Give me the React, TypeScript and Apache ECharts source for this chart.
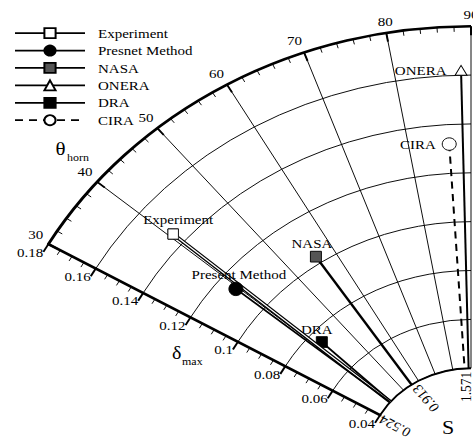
import React, { useEffect, useRef } from 'react';
import * as echarts from 'echarts';

// ---- data ----
const seriesNames = ['Experiment', 'Presnet Method', 'NASA', 'ONERA', 'DRA', 'CIRA'];
const pointLabels = ['Experiment', 'Present Method', 'NASA', 'ONERA', 'DRA', 'CIRA'];
// marker position: θ_horn (deg) and δ_max
const thetaHorn = [40.6, 39.5, 56.0, 88.7, 42.0, 86.5];
const deltaMax = [0.145, 0.113, 0.103, 0.162, 0.075, 0.132];
// where each line meets the inner arc (θ in deg)
const thetaEnd = [39.9, 39.7, 55.5, 88.7, 40.2, 86.5];
const deltaInner = 0.04;
// S tick labels on the inner arc (rad)
const sTicks = [0.524, 0.913, 1.571];
// axis ranges
const thetaRange = [30, 90];
const thetaStep = 10;
const deltaRange = [0.04, 0.18];
const deltaStep = 0.02;

// ---- styles ----
const FONT = 'Liberation Serif';
const SY = 0.893;
const W = 473;
const H = Math.round(442 / SY);
const CX = 471;
const CY = 462 / SY;
const R0 = 105;
const R1 = 488;
const symbols = ['rect', 'circle', 'rect', 'triangle', 'rect', 'circle'];
const fills = ['#ffffff', '#000000', '#555555', '#ffffff', '#000000', '#ffffff'];
const sizes: number[][] = [[10.5, 11.5], [14, 15], [11, 12], [12, 11], [11, 12], [14, 14]];
const lineWidths = [4, 2, 2.5, 2, 2, 2];
const lineTypes: any[] = ['solid', 'solid', 'solid', 'solid', 'solid', [8, 6]];
const labelPos = ['top', 'top', 'top', 'left', 'top', 'left'];
const labelDist = [3, 1, 1, 8, 0, 6];
const labelOff: number[][] = [[5, 0], [3, 0], [-4, 0], [0, 0], [-5, 0], [0, 0]];
const zs = [3, 5, 3, 3, 3, 3];
const sAlign = ['bottom', 'top', 'bottom'];
const sGap = [2, 4, 4];
// shift toward larger θ (up/right on screen)
const sShift = [4, 0, 2];

export default function App() {
  const ref = useRef<HTMLDivElement>(null);
  useEffect(() => {
    if (!ref.current) return;
    const chart = echarts.init(ref.current, null, { renderer: 'svg' });
    const txt = { color: '#000', fontFamily: FONT, fontSize: 15 };

    const series: any[] = seriesNames.map((name, i) => ({
      type: 'line',
      name,
      coordinateSystem: 'polar',
      polarIndex: 0,
      z: zs[i],
      symbol: symbols[i],
      symbolSize: sizes[i],
      showSymbol: true,
      itemStyle: { color: fills[i], borderColor: '#000', borderWidth: 1 },
      lineStyle: { color: '#000', width: lineWidths[i], type: lineTypes[i] },
      data: [
        {
          value: [deltaMax[i], thetaHorn[i]],
          label: {
            show: true,
            formatter: pointLabels[i],
            position: labelPos[i],
            distance: labelDist[i],
            offset: labelOff[i],
            ...txt,
          },
        },
        { value: [deltaInner, thetaEnd[i]], symbol: 'none' },
      ],
    }));
    // hollow centre of the Experiment line
    series.push({
      type: 'line',
      name: '_expInner',
      coordinateSystem: 'polar',
      polarIndex: 0,
      z: 4,
      symbol: 'none',
      lineStyle: { color: '#fff', width: 1.4 },
      data: [
        [deltaMax[0], thetaHorn[0]],
        [deltaInner, thetaEnd[0]],
      ],
    });
    // Experiment marker on top
    series.push({
      type: 'scatter',
      name: '_expMarker',
      coordinateSystem: 'polar',
      polarIndex: 0,
      z: 6,
      symbol: symbols[0],
      symbolSize: sizes[0],
      itemStyle: { color: fills[0], borderColor: '#000', borderWidth: 1 },
      data: [[deltaMax[0], thetaHorn[0]]],
    });

    const arcAxis = (polarIndex: number, width: number) => ({
      polarIndex,
      type: 'value',
      min: thetaRange[0],
      max: thetaRange[1],
      startAngle: 150,
      endAngle: 90,
      clockwise: true,
      axisLine: { show: true, lineStyle: { color: '#000', width } },
      axisTick: { show: false },
      axisLabel: { show: false },
      splitLine: { show: false },
      minorTick: { show: false },
    });
    const hiddenRadius = (polarIndex: number) => ({
      polarIndex,
      type: 'value',
      show: false,
      min: 0,
      max: 1,
      axisLine: { show: false },
      axisTick: { show: false },
      axisLabel: { show: false },
      splitLine: { show: false },
    });

    const option: any = {
      animation: false,
      backgroundColor: '#fff',
      textStyle: { fontFamily: FONT },
      polar: [
        { center: [CX, CY], radius: [R0, R1] },
        { center: [CX, CY], radius: [0, R0] },
        { center: [CX, CY], radius: [0, R1] },
      ],
      angleAxis: [
        {
          polarIndex: 0,
          type: 'value',
          min: thetaRange[0],
          max: thetaRange[1],
          interval: thetaStep,
          startAngle: 150,
          endAngle: 90,
          clockwise: true,
          axisLine: { show: false },
          axisTick: { show: true, inside: true, length: 10, lineStyle: { color: '#000', width: 2 } },
          minorTick: { show: true, splitNumber: 5, length: 6, lineStyle: { color: '#000', width: 1 } },
          axisLabel: { show: true, margin: 6, ...txt },
          splitLine: { show: true, lineStyle: { color: '#000', width: 1 } },
        },
        arcAxis(1, 2),
        arcAxis(2, 3),
      ],
      radiusAxis: [
        {
          polarIndex: 0,
          type: 'value',
          min: deltaRange[0],
          max: deltaRange[1],
          interval: deltaStep,
          axisLine: { show: true, lineStyle: { color: '#000', width: 3 } },
          axisTick: { show: true, inside: true, length: 10, lineStyle: { color: '#000', width: 2 } },
          minorTick: { show: true, splitNumber: 4, length: 6, lineStyle: { color: '#000', width: 1 } },
          axisLabel: { show: true, margin: 10, ...txt },
          splitLine: { show: true, lineStyle: { color: '#000', width: 1 } },
        },
        hiddenRadius(1),
        hiddenRadius(2),
      ],
      legend: {
        data: seriesNames,
        orient: 'vertical',
        left: 14,
        top: 29.6,
        padding: 0,
        itemWidth: 70,
        itemHeight: 14,
        itemGap: 4.5,
        selectedMode: false,
        lineStyle: { width: 2 },
        textStyle: { ...txt, lineHeight: 14, padding: [0, 0, 0, 8] },
      },
      series,
    };
    chart.setOption(option);

    const gfx: any[] = [
      { type: 'text', x: 60.5, y: 166, style: { text: 'θ', fontFamily: FONT, fontSize: 21, fill: '#000', align: 'center', verticalAlign: 'middle' } },
      { type: 'text', x: 67, y: 176, style: { text: 'horn', fontFamily: FONT, fontSize: 12, fill: '#000', align: 'left', verticalAlign: 'middle' } },
      { type: 'text', x: 176.7, y: 395.3, style: { text: 'δ', fontFamily: FONT, fontSize: 20, fill: '#000', align: 'center', verticalAlign: 'middle' } },
      { type: 'text', x: 182, y: 405, style: { text: 'max', fontFamily: FONT, fontSize: 12, fill: '#000', align: 'left', verticalAlign: 'middle' } },
      { type: 'text', x: 448, y: 478.7, style: { text: 'S', fontFamily: FONT, fontSize: 22, fill: '#000', align: 'center', verticalAlign: 'middle' } },
    ];
    sTicks.forEach((s, i) => {
      const th = (s * 180) / Math.PI;
      const p = chart.convertToPixel({ polarIndex: 0 } as any, [deltaInner, th]) as any;
      if (!p) return;
      const dx = CX - p[0];
      const dy = CY - p[1];
      const L = Math.hypot(dx, dy) || 1;
      const ux = dx / L;
      const uy = dy / L;
      // perpendicular pointing toward larger θ (up/right on screen)
      const px = uy;
      const py = -ux;
      gfx.push({
        type: 'text',
        x: p[0] + ux * sGap[i] + px * sShift[i],
        y: p[1] + uy * sGap[i] + py * sShift[i],
        rotation: ((180 - th) * Math.PI) / 180,
        style: { text: s.toFixed(3), fontFamily: FONT, fontSize: 15, fill: '#000', align: 'right', verticalAlign: sAlign[i] },
      });
    });
    chart.setOption({ graphic: gfx });

    return () => chart.dispose();
  }, []);

  return (
    <div style={{ position: 'fixed', left: 0, top: 0, width: W, height: 442, overflow: 'hidden', background: '#fff' }}>
      <div ref={ref} style={{ width: W, height: H, transform: `scaleY(${SY})`, transformOrigin: '0 0' }} />
    </div>
  );
}
